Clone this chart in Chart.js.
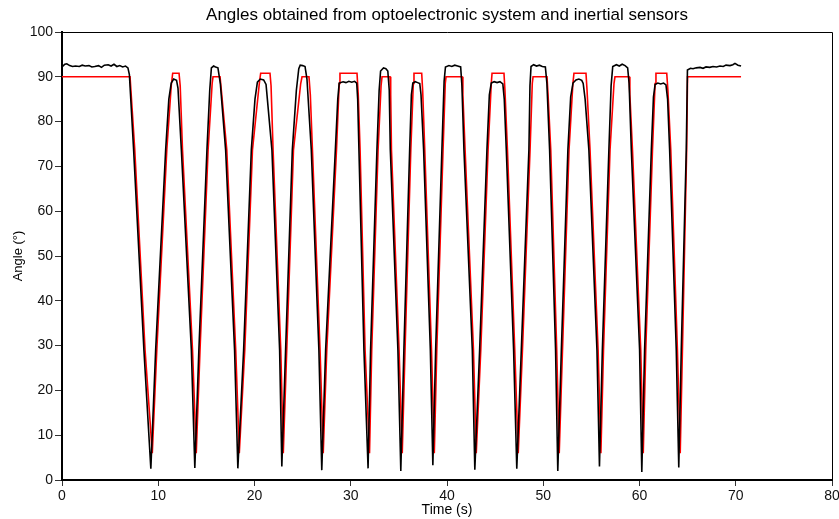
<!DOCTYPE html>
<html>
<head>
<meta charset="utf-8">
<title>Angles</title>
<script src="https://cdn.jsdelivr.net/npm/chart.js@4.4.0/dist/chart.umd.min.js"></script>
<style>
  html, body { margin: 0; padding: 0; background: #fff; }
  #wrap { width: 839px; height: 519px; }
</style>
</head>
<body>
<div id="wrap"><canvas id="anglesChart" width="839" height="519"></canvas></div>
<script>
// inertial sensors (black trace): time in s, angle in degrees
const inertialTime = [
  0.0, 0.3, 0.5, 0.8, 1.1, 1.4, 1.8, 2.1, 2.4, 2.8, 3.1, 3.4, 3.8, 4.1, 4.4, 4.8, 5.1, 5.4, 5.7, 6.0, 6.3, 6.6, 6.85,
  7.0, 7.44, 8.51, 9.23,
  9.73, 10.77, 11.1, 11.35, 11.6, 11.9, 12.05,
  12.40, 13.44, 13.80,
  14.22, 15.06, 15.35, 15.52, 15.75, 15.95, 16.2, 16.45,
  17.00, 17.93, 18.27,
  18.87, 19.67, 20.05, 20.3, 20.6, 20.95, 21.2,
  21.81, 22.61, 22.84,
  23.23, 23.93, 24.35, 24.6, 24.75, 25.0, 25.25, 25.45,
  25.90, 26.69, 26.99,
  27.39, 28.40, 28.65, 28.8, 29.2, 29.5, 29.8, 30.1, 30.4, 30.62, 30.72,
  30.85, 31.37, 31.80,
  32.06, 32.72, 32.95, 33.1, 33.4, 33.65, 33.85, 34.0,
  34.11, 34.90, 35.20,
  35.52, 36.12, 36.3, 36.45, 36.7, 36.95, 37.17, 37.3,
  37.57, 38.27, 38.53,
  38.82, 39.47, 39.7, 39.84, 40.2, 40.5, 40.8, 41.1, 41.42, 41.55,
  41.76, 42.63, 42.89,
  43.39, 44.15, 44.4, 44.6, 44.9, 45.2, 45.5, 45.8, 45.95,
  46.16, 46.92, 47.25,
  47.72, 48.51, 48.62, 48.73, 49.0, 49.3, 49.6, 49.9, 50.22, 50.38,
  50.66, 51.28, 51.51,
  51.88, 52.56, 52.85, 53.09, 53.4, 53.7, 54.0, 54.15, 54.35,
  54.74, 55.58, 55.84,
  56.14, 56.82, 57.05, 57.22, 57.6, 57.9, 58.2, 58.5, 58.77, 58.92,
  59.15, 60.01, 60.24,
  60.53, 61.23, 61.45, 61.62, 61.9, 62.2, 62.5, 62.75, 62.92,
  63.13, 63.82, 64.08,
  64.34, 64.86, 64.98,
  65.3, 65.56, 65.9, 66.29, 66.6, 66.91, 67.3, 67.64, 68.0, 68.36, 68.7, 68.99, 69.4, 69.7, 69.92, 70.23, 70.55
];
const inertialAngle = [
  92.2, 92.8, 92.9, 92.5, 92.3, 92.4, 92.3, 92.6, 92.4, 92.5, 92.2, 92.3, 92.5, 92.1, 92.6, 92.7, 92.4, 92.8, 92.3, 92.5, 92.2, 92.4, 92.0,
  90.5, 73.7, 29, 2.5,
  29, 73.7, 85, 88.6, 89.5, 89.2, 87.5,
  73.7, 29, 2.7,
  29, 73.7, 87, 92.0, 92.4, 92.2, 92.0, 88.5,
  73.7, 29, 2.6,
  29, 73.7, 85, 88.8, 89.5, 89.3, 88.3,
  73.7, 29, 3.0,
  29, 73.7, 87, 91.8, 92.6, 92.5, 92.3, 89.5,
  73.7, 29, 2.2,
  29, 73.7, 85, 88.6, 88.9, 88.7, 89.0, 88.8, 89.0, 88.6, 85,
  73.7, 29, 2.6,
  29, 73.7, 87, 91.3, 92.0, 91.8, 91.3, 87,
  73.7, 29, 2.0,
  29, 73.7, 86, 88.6, 88.9, 88.7, 88.5, 86,
  73.7, 29, 3.3,
  29, 73.7, 89, 92.2, 92.5, 92.3, 92.6, 92.4, 92.2, 88,
  73.7, 29, 2.3,
  29, 73.7, 86, 88.6, 88.9, 88.7, 88.9, 88.4, 85,
  73.7, 29, 2.5,
  29, 73.7, 88, 92.3, 92.7, 92.4, 92.6, 92.3, 92.2, 88.5,
  73.7, 29, 2.0,
  29, 73.7, 85.5, 88.6, 89.3, 89.5, 89.2, 88.5, 85,
  73.7, 29, 3.0,
  29, 73.7, 88, 92.3, 92.7, 92.4, 92.8, 92.5, 92.0, 88.5,
  73.7, 29, 1.8,
  29, 73.7, 85.5, 88.3, 88.6, 88.4, 88.6, 88.2, 85,
  73.7, 29, 2.8,
  29, 73.7, 91.5,
  91.9, 91.8, 92.0, 92.1, 91.9, 92.2, 92.1, 92.3, 92.2, 92.4, 92.3, 92.6, 92.5, 92.7, 93.0, 92.6, 92.4
];

// optoelectronic system (red trace)
const opticalTime = [
  0, 7.07,
  7.56, 8.63, 9.38,
  9.85, 10.89, 11.35, 11.5, 12.16, 12.28, 12.52, 13.56, 13.95,
  14.34, 15.18, 15.6, 15.69, 16.42, 16.6, 17.12, 18.05, 18.42,
  18.99, 19.79, 20.5, 20.64, 21.61, 21.72, 21.93, 22.73, 22.99,
  23.35, 24.05, 24.8, 24.94, 25.66, 25.8, 26.02, 26.81, 27.14,
  27.51, 28.52, 28.8, 28.88, 30.65, 30.78, 30.97, 31.49, 31.95,
  32.18, 32.84, 33.15, 33.25, 34.08, 34.15, 34.23, 35.02, 35.35,
  35.64, 36.24, 36.5, 36.57, 37.37, 37.47, 37.69, 38.39, 38.68,
  38.94, 39.59, 39.82, 39.9, 41.56, 41.65, 41.88, 42.75, 43.04,
  43.51, 44.27, 44.6, 44.68, 45.92, 46.02, 46.28, 47.04, 47.40,
  47.84, 48.63, 48.86, 48.94, 50.39, 50.5, 50.78, 51.40, 51.66,
  52.00, 52.68, 53.08, 53.19, 54.44, 54.55, 54.86, 55.70, 55.99,
  56.26, 56.94, 57.35, 57.45, 58.91, 59.0, 59.27, 60.13, 60.39,
  60.65, 61.35, 61.62, 61.71, 62.83, 62.95, 63.25, 63.94, 64.23,
  64.46, 64.9, 64.99, 70.55
];
const opticalAngle = [
  90, 90,
  73.7, 29, 6,
  29, 73.7, 88, 90.8, 90.8, 88, 73.7, 29, 6,
  29, 73.7, 88.5, 90, 90, 86, 73.7, 29, 6,
  29, 73.7, 88.5, 90.8, 90.8, 88, 73.7, 29, 6,
  29, 73.7, 88.5, 90, 90, 86, 73.7, 29, 6,
  29, 73.7, 88.5, 90.8, 90.8, 86, 73.7, 29, 6,
  29, 73.7, 88, 90, 90, 86, 73.7, 29, 6,
  29, 73.7, 88.5, 90.8, 90.8, 87, 73.7, 29, 6,
  29, 73.7, 88.5, 90, 90, 86, 73.7, 29, 6,
  29, 73.7, 88.5, 90.8, 90.8, 87, 73.7, 29, 6,
  29, 73.7, 88.5, 90, 90, 86, 73.7, 29, 6,
  29, 73.7, 88.5, 90.8, 90.8, 87, 73.7, 29, 6,
  29, 73.7, 88.5, 90, 90, 86, 73.7, 29, 6,
  29, 73.7, 88.5, 90.8, 90.8, 87, 73.7, 29, 6,
  29, 73.7, 90, 90
];

const xTicks = [0, 10, 20, 30, 40, 50, 60, 70, 80];
const yTicks = [0, 10, 20, 30, 40, 50, 60, 70, 80, 90, 100];

const FONT = '"Liberation Sans", Arial, Helvetica, sans-serif';

function toPoints(ts, vs) {
  return ts.map((t, i) => ({ x: t, y: vs[i] }));
}

// thin box on top and right of the plot, like the original frame
const framePlugin = {
  id: 'frame',
  afterDraw(chart) {
    const { ctx, chartArea: a } = chart;
    ctx.save();
    ctx.strokeStyle = '#000';
    ctx.lineWidth = 1;
    ctx.beginPath();
    ctx.moveTo(a.left, a.top + 0.5);
    ctx.lineTo(a.right + 0.5, a.top + 0.5);
    ctx.lineTo(a.right + 0.5, a.bottom);
    ctx.stroke();
    ctx.restore();
  }
};

const ctx = document.getElementById('anglesChart').getContext('2d');
new Chart(ctx, {
  type: 'line',
  data: {
    datasets: [
      {
        label: 'Inertial sensors',
        data: toPoints(inertialTime, inertialAngle),
        borderColor: '#000000',
        borderWidth: 1.6,
        pointRadius: 0,
        tension: 0
      },
      {
        label: 'Optoelectronic system',
        data: toPoints(opticalTime, opticalAngle),
        borderColor: '#ff0000',
        borderWidth: 1.6,
        pointRadius: 0,
        tension: 0
      }
    ]
  },
  options: {
    responsive: false,
    animation: false,
    devicePixelRatio: 1,
    layout: { padding: { left: 0, right: 7, top: 0, bottom: 0 } },
    plugins: {
      legend: { display: false },
      tooltip: { enabled: false },
      title: {
        display: true,
        fullSize: false,
        text: 'Angles obtained from optoelectronic system and inertial sensors',
        color: '#000',
        font: { family: FONT, size: 17, weight: 'normal', lineHeight: 1.2 },
        padding: { top: 5, bottom: 6.6 }
      }
    },
    scales: {
      x: {
        type: 'linear',
        min: 0,
        max: 80,
        afterBuildTicks: s => { s.ticks = xTicks.map(v => ({ value: v })); },
        afterFit: s => { s.height = 39; s.paddingRight = 0; s.paddingLeft = 0; },
        grid: { drawOnChartArea: false, drawTicks: true, tickLength: 6, color: '#333' },
        border: { display: true, color: '#000', width: 2 },
        ticks: { color: '#111', padding: 2, maxRotation: 0, font: { family: FONT, size: 14 } },
        title: {
          display: true,
          text: 'Time (s)',
          color: '#000',
          font: { family: FONT, size: 14 },
          padding: { top: 0, bottom: 0 }
        }
      },
      y: {
        min: 0,
        max: 100,
        afterBuildTicks: s => { s.ticks = yTicks.map(v => ({ value: v })); },
        afterFit: s => { s.width = 62; },
        grid: { drawOnChartArea: false, drawTicks: true, tickLength: 7, color: '#333' },
        border: { display: true, color: '#000', width: 2 },
        ticks: { color: '#111', padding: 2, font: { family: FONT, size: 14 } },
        title: {
          display: true,
          text: 'Angle (°)',
          color: '#000',
          font: { family: FONT, size: 13 },
          padding: { top: 11, bottom: 0 }
        }
      }
    }
  },
  plugins: [framePlugin]
});
</script>
</body>
</html>
